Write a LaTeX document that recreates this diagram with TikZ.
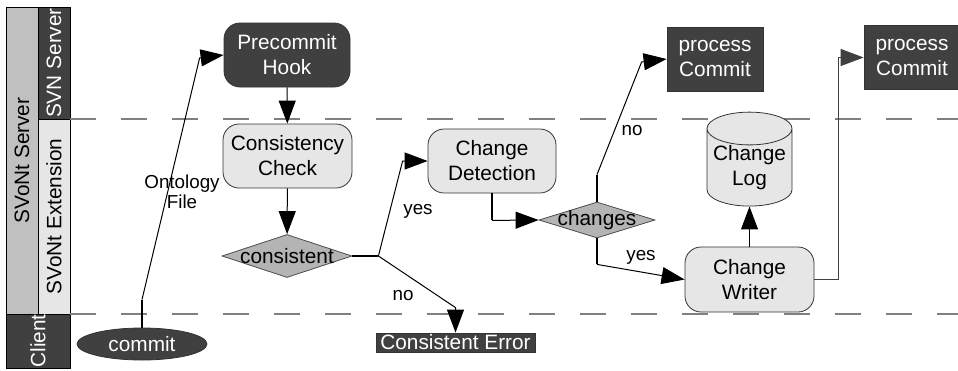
\documentclass[tikz,border=0pt]{standalone}
\usepackage{fontspec}
\setmainfont{Liberation Sans}
\usetikzlibrary{shapes.geometric,arrows.meta,calc}

\definecolor{darkfill}{HTML}{404040}
\definecolor{lightfill}{HTML}{E6E6E6}
\definecolor{midfill}{HTML}{B4B4B4}
\definecolor{lanefill}{HTML}{C0C0C0}

\begin{document}
\begin{tikzpicture}[x=0.5pt,y=-0.5pt,
		txt/.style={font=\fontsize{10.4}{12.5}\selectfont,align=center},
		lbl/.style={font=\fontsize{9.4}{10}\selectfont,align=center},
		activity/.style={txt,draw=black!80,fill=lightfill,rounded corners=8pt,minimum width=64.5pt,minimum height=32pt,inner sep=1pt},
		hook/.style={activity,fill=darkfill,text=white},
		decision/.style={txt,diamond,draw=black!70,fill=midfill,inner sep=0pt},
		outbox/.style={txt,draw=black!80,fill=darkfill,text=white,inner sep=0pt},
		flow/.style={line width=0.5pt,-{Triangle[length=11.5pt,width=8.5pt]}},
		stub/.style={line width=1.1pt},
		lane/.style={draw=black,line width=0.5pt},
		sep/.style={black!50,line width=0.7pt,dash pattern=on 12.75pt off 12.75pt}]
		\useasboundingbox (0,0) rectangle (958,370);
		% swim lanes
		\draw[lane,fill=lanefill] (6,7) rectangle node[txt,rotate=90] (srv) {SVoNt Server} (38,314);
		\draw[lane,fill=darkfill] (38,7) rectangle node[txt,rotate=90,text=white] (svn) {SVN Server} (70,119);
		\draw[lane,fill=lightfill] (38,119) rectangle node[txt,rotate=90] (ext) {SVoNt Extension} (70,314);
		\draw[lane,fill=darkfill] (6,314) rectangle node[txt,rotate=90,text=white] (cli) {Client} (70,368);
		\draw[sep] (70,119) -- (958,119);
		\draw[sep] (70,314) -- (958,314);
		% activities
		\node[hook,minimum width=63pt] (pre) at (287,55) {Precommit\\Hook};
		\node[activity] (check) at (287.5,156) {Consistency\\Check};
		\node[decision,minimum width=65pt,minimum height=21.5pt] (cons) at (287,256) {\makebox[0pt]{consistent}};
		\node[txt,ellipse,draw=black!80,fill=darkfill,text=white,minimum width=65pt,minimum height=16pt,inner sep=0pt] (commit) at (142,344) {commit};
		\node[outbox,minimum width=79.5pt,minimum height=9.5pt] (err) at (455.5,342.5) {Consistent Error};
		\node[activity,minimum width=64pt] (detect) at (492,161) {Change\\Detection};
		\node[decision,minimum width=58pt,minimum height=18pt] (chg) at (597,220) {\makebox[0pt]{changes}};
		\node[outbox,minimum width=48pt,minimum height=32pt] (pc1) at (715,59) {process\\Commit};
		\node[outbox,minimum width=48pt,minimum height=32pt] (pc2) at (912,57.5) {process\\Commit};
		\node[txt,cylinder,shape border rotate=90,aspect=0.45,draw=black!80,fill=lightfill,minimum width=42.5pt,minimum height=38.5pt,inner sep=0pt] (log) at (749.5,167.5) {Change\\Log};
		\node[activity,minimum height=32.5pt] (writer) at (749.5,279.5) {Change\\Writer};
		% flows
		\draw[stub] (commit.north) -- ++(0,-28) coordinate (c0);
		\draw[flow] (c0) -- ($(pre.west)+(-24,3)$) -- (pre.west);
		\node[lbl] (ont) at (182,192) {Ontology\\File};
		\draw[flow] (pre) -- (check);
		\draw[flow] (check) -- (cons);
		\draw[stub] (cons.east) -- ++(26,0) coordinate (c1);
		\draw[flow] (c1) -- ($(detect.west)+(-25,0)$) -- (detect.west);
		\draw[flow] (c1) -- ($(err.north)+(0,-25)$) -- (err.north);
		\node[lbl] (yes1) at (418,211) {yes};
		\node[lbl] (no1) at (403,296) {no};
		\draw[stub] (detect.south) -- ++(0,27) coordinate (c2);
		\draw[flow] (c2) -- (chg.west);
		\draw[stub] (chg.north) -- ++(0,-27) coordinate (c3);
		\draw[flow] (c3) -- ($(pc1.west)+(-25,3)$) -- (pc1.west);
		\node[lbl] (no2) at (632,131) {no};
		\draw[stub] (chg.south) -- ++(0,26) coordinate (c4);
		\draw[flow] (c4) -- (writer.west);
		\node[lbl] (yes2) at (641,257) {yes};
		\draw[flow] (writer) -- (log);
		\draw[flow,draw=black!75] (writer.east) -- ++(24,0) |- (pc2.west);
\end{tikzpicture}
\end{document}
